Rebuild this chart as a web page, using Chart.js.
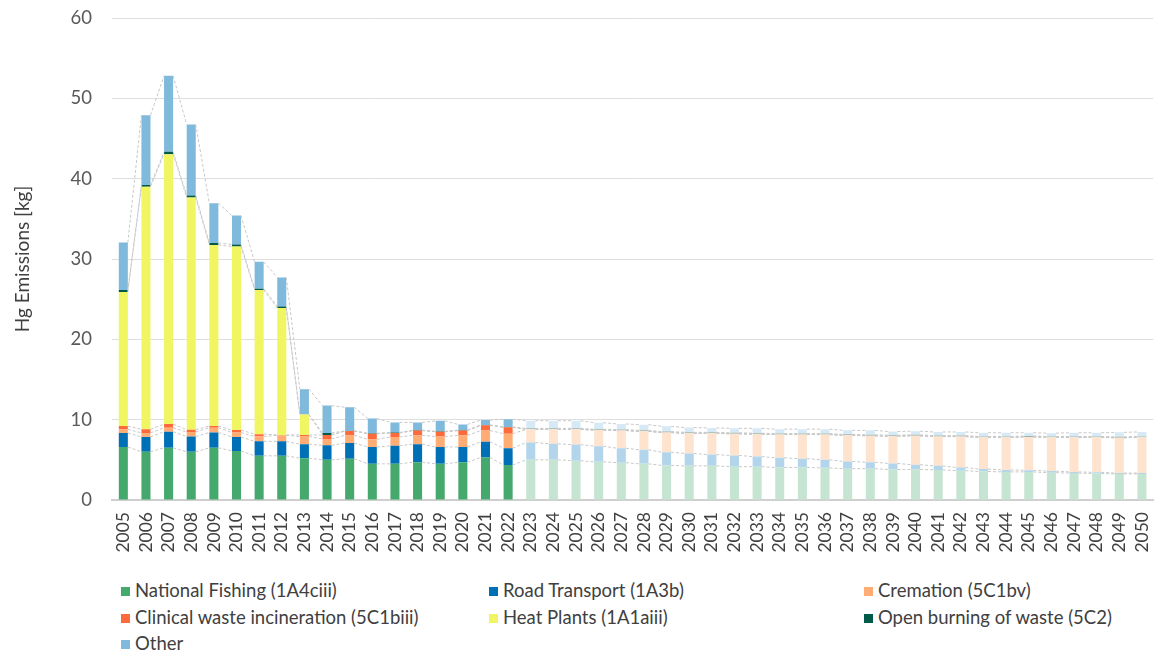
<!DOCTYPE html>
<html>
<head>
<meta charset="utf-8">
<script src="https://cdn.jsdelivr.net/npm/chart.js@4/dist/chart.umd.min.js"></script>
<style>
  html, body { margin: 0; padding: 0; background: #ffffff; }
  body { width: 1167px; height: 657px; position: relative; overflow: hidden; font-family: 'Lato', 'Open Sans', sans-serif; }
  #wrap { position: absolute; left: 0; top: 0; width: 1167px; height: 560px; }
  #legend { position: absolute; left: 0; top: 579px; width: 1167px; height: 78px; }
  .item { position: absolute; font-size: 18.5px; color: #404040; white-space: nowrap; line-height: 22px; }
  .item i { display: inline-block; width: 9px; height: 9px; margin-right: 5px; vertical-align: 1px; }
</style>
</head>
<body>
<div id="wrap"><canvas id="c" width="1167" height="560"></canvas></div>
<div id="legend"></div>
<script>
// Mercury (Hg) emissions by source, kg; 2005-2022 inventory, 2023-2050 projection
const years = [];
for (let y = 2005; y <= 2050; y++) years.push(String(y));
const firstProjectionYear = 2023;

const yTicks = [0, 10, 20, 30, 40, 50, 60];

const seriesNames = [
  'National Fishing (1A4ciii)',
  'Road Transport (1A3b)',
  'Cremation (5C1bv)',
  'Clinical waste incineration (5C1biii)',
  'Heat Plants (1A1aiii)',
  'Open burning of waste (5C2)',
  'Other'
];

const fishing = [
  6.6, 6.0, 6.5, 6.0, 6.5, 6.1, 5.5, 5.5, 5.2, 5.0, 5.15, 4.5, 4.5, 4.7, 4.5, 4.7, 5.3, 4.35,
  5.0, 5.0, 4.9, 4.75, 4.65, 4.5, 4.3, 4.25, 4.25, 4.15, 4.15, 4.05, 4.05, 4.0, 3.9, 3.9,
  3.8, 3.8, 3.75, 3.65, 3.55, 3.5, 3.5, 3.4, 3.35, 3.3, 3.25, 3.25
];
const road = [
  1.75, 1.85, 2.0, 1.9, 1.9, 1.75, 1.8, 1.8, 1.75, 1.8, 1.95, 2.1, 2.25, 2.25, 2.1, 1.9, 1.95, 2.1,
  2.15, 2.0, 2.0, 1.95, 1.8, 1.75, 1.65, 1.55, 1.4, 1.4, 1.25, 1.2, 1.1, 1.0, 0.9, 0.8,
  0.75, 0.6, 0.5, 0.4, 0.3, 0.25, 0.2, 0.2, 0.15, 0.15, 0.1, 0.1
];
const cremation = [
  0.45, 0.5, 0.5, 0.55, 0.6, 0.55, 0.6, 0.75, 0.95, 0.8, 0.95, 0.95, 1.1, 1.1, 1.3, 1.45, 1.4, 1.8,
  1.65, 1.8, 1.9, 2.0, 2.2, 2.3, 2.45, 2.5, 2.65, 2.7, 2.8, 2.9, 3.0, 3.15, 3.25, 3.3,
  3.4, 3.6, 3.65, 3.85, 3.95, 4.05, 4.15, 4.2, 4.3, 4.35, 4.4, 4.45
];
const clinical = [
  0.4, 0.45, 0.45, 0.3, 0.2, 0.3, 0.3, 0.05, 0.2, 0.5, 0.55, 0.7, 0.5, 0.6, 0.6, 0.6, 0.65, 0.8,
  0, 0, 0, 0, 0, 0, 0, 0, 0, 0, 0, 0, 0, 0, 0, 0,
  0, 0, 0, 0, 0, 0, 0, 0, 0, 0, 0, 0
];
const heatPlants = [
  16.7, 30.2, 33.6, 28.9, 22.55, 22.85, 17.95, 15.8, 2.55, 0, 0, 0, 0, 0, 0, 0, 0, 0,
  0, 0, 0, 0, 0, 0, 0, 0, 0, 0, 0, 0, 0, 0, 0, 0,
  0, 0, 0, 0, 0, 0, 0, 0, 0, 0, 0, 0
];
const openBurning = [
  0.25, 0.2, 0.3, 0.25, 0.25, 0.25, 0.15, 0.2, 0, 0.25, 0, 0.05, 0.05, 0.05, 0.05, 0.05, 0.05, 0.05,
  0.12, 0.12, 0.12, 0.12, 0.12, 0.12, 0.12, 0.12, 0.12, 0.12, 0.12, 0.12, 0.12, 0.12, 0.12, 0.12,
  0.12, 0.12, 0.12, 0.12, 0.12, 0.12, 0.12, 0.12, 0.12, 0.12, 0.12, 0.12
];
const other = [
  5.9, 8.7, 9.45, 8.85, 4.95, 3.6, 3.35, 3.6, 3.15, 3.4, 2.95, 1.85, 1.25, 0.95, 1.3, 0.7, 0.6, 0.95,
  0.95, 0.95, 0.95, 0.8, 0.7, 0.7, 0.65, 0.6, 0.55, 0.55, 0.6, 0.55, 0.55, 0.55, 0.5, 0.55,
  0.45, 0.45, 0.45, 0.45, 0.45, 0.45, 0.4, 0.4, 0.45, 0.45, 0.55, 0.55
];

const seriesValues = [fishing, road, cremation, clinical, heatPlants, openBurning, other];

// solid colours for inventory years, pale tints for projected years
const solidColors = ['#45a86c', '#0070b6', '#ffad74', '#ff6a3d', '#f0f562', '#005a4a', '#7fb9dc'];
const paleColors  = ['#c5e5d2', '#b2d5eb', '#fee3cf', '#ffd2c4', '#fbfcd0', '#98b3ab', '#d6e9f5'];

const isProjection = years.map(y => Number(y) >= firstProjectionYear);

const datasets = seriesNames.map((name, k) => ({
  label: name,
  data: seriesValues[k],
  backgroundColor: isProjection.map(p => p ? paleColors[k] : solidColors[k]),
  borderWidth: 0,
  barPercentage: 0.4,
  categoryPercentage: 1.0
}));

// dashed connectors between the tops of each stacked segment of neighbouring bars
const seriesLines = {
  id: 'seriesLines',
  afterDatasetsDraw(chart) {
    const ctx = chart.ctx;
    ctx.save();
    ctx.strokeStyle = '#c8c8c8';
    ctx.lineWidth = 1;
    ctx.setLineDash([3, 2]);
    chart.data.datasets.forEach((ds, k) => {
      const meta = chart.getDatasetMeta(k);
      for (let i = 0; i < meta.data.length - 1; i++) {
        const a = meta.data[i], b = meta.data[i + 1];
        ctx.beginPath();
        ctx.moveTo(a.x + a.width / 2, a.y);
        ctx.lineTo(b.x - b.width / 2, b.y);
        ctx.stroke();
      }
    });
    ctx.restore();
  }
};

const font = "'Lato', 'Open Sans', sans-serif";

new Chart(document.getElementById('c'), {
  type: 'bar',
  data: { labels: years, datasets },
  plugins: [seriesLines],
  options: {
    responsive: false,
    animation: false,
    layout: { padding: { left: 11, right: 7, top: 18, bottom: 0 } },
    plugins: { legend: { display: false }, tooltip: { enabled: false } },
    scales: {
      x: {
        stacked: true,
        grid: { display: false },
        border: { display: true, color: '#cfcfcf', width: 2 },
        ticks: {
          color: '#404040', font: { family: font, size: 17.5 },
          minRotation: 90, maxRotation: 90, autoSkip: false, padding: 4
        },
        afterFit(s) { s.height = 60; }
      },
      y: {
        stacked: true,
        min: yTicks[0], max: yTicks[yTicks.length - 1],
        afterBuildTicks(s) { s.ticks = yTicks.map(v => ({ value: v })); },
        grid: { color: '#dedede', lineWidth: 1, drawTicks: false },
        border: { display: false },
        ticks: { color: '#595959', font: { family: font, size: 18.5 }, padding: 20 },
        title: {
          display: true, text: 'Hg Emissions [kg]', color: '#404040',
          font: { family: font, size: 19 }, padding: { top: 0, bottom: 0 }
        },
        afterFit(s) {
          s.width = 101;
          s.paddingTop = 0;
          s.paddingBottom = 0;
        }
      }
    }
  }
});

// legend in three columns below the chart
const legendPos = [
  [121, 0], [489, 0], [864, 0],
  [121, 27], [489, 27], [864, 27],
  [121, 53]
];
const legend = document.getElementById('legend');
seriesNames.forEach((name, k) => {
  const d = document.createElement('div');
  d.className = 'item';
  d.style.left = legendPos[k][0] + 'px';
  d.style.top = legendPos[k][1] + 'px';
  const sw = document.createElement('i');
  sw.style.background = solidColors[k];
  d.appendChild(sw);
  d.appendChild(document.createTextNode(name));
  legend.appendChild(d);
});
</script>
</body>
</html>
